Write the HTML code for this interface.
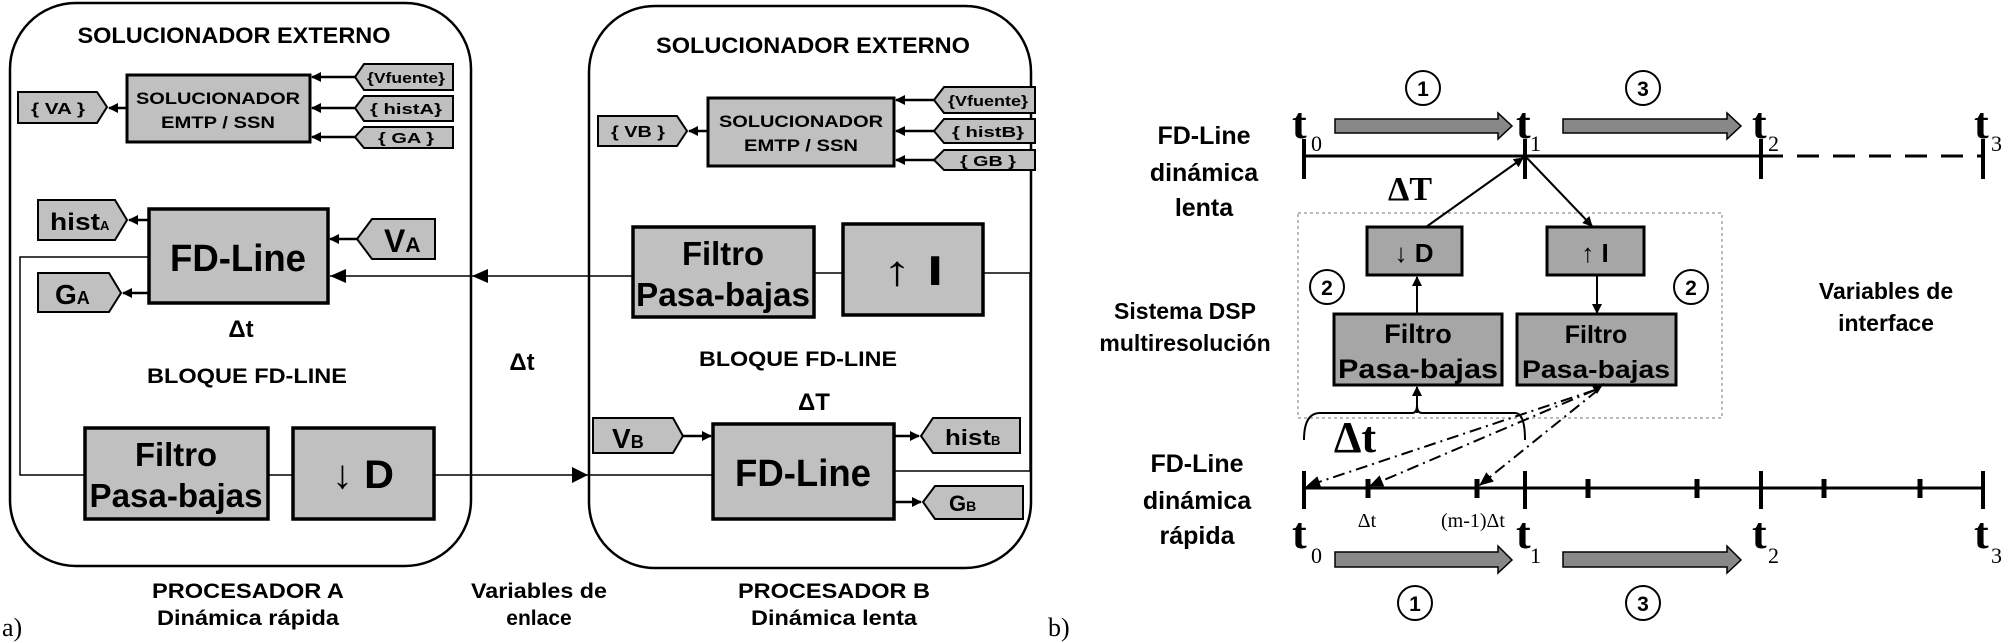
<!DOCTYPE html>
<html><head><meta charset="utf-8"><style>
html,body{margin:0;padding:0;background:#fff;}
svg{display:block;}
.s{font-family:"Liberation Sans",Arial,sans-serif;font-weight:bold;fill:#000;}
.r{font-family:"Liberation Serif","Times New Roman",serif;fill:#000;}
</style></head><body>
<svg width="2008" height="643" viewBox="0 0 2008 643" xmlns="http://www.w3.org/2000/svg">
<defs>
<marker id="a" markerWidth="10" markerHeight="10" refX="9" refY="5" orient="auto" markerUnits="userSpaceOnUse"><path d="M0,0 L10,5 L0,10 z" fill="#000"/></marker>
<marker id="b" markerWidth="14" markerHeight="12" refX="13" refY="6" orient="auto" markerUnits="userSpaceOnUse"><path d="M0,0 L14,6 L0,12 z" fill="#000"/></marker>
</defs>

<rect x="10" y="3" width="461" height="563" rx="66" ry="66" fill="none" stroke="#000" stroke-width="2.5"/>
<rect x="589" y="6" width="442" height="562" rx="66" ry="66" fill="none" stroke="#000" stroke-width="2.5"/>

<g class="s">
<text x="234" y="43" font-size="22" text-anchor="middle" textLength="313" lengthAdjust="spacingAndGlyphs">SOLUCIONADOR EXTERNO</text>
<text x="813" y="53" font-size="22" text-anchor="middle" textLength="314" lengthAdjust="spacingAndGlyphs">SOLUCIONADOR EXTERNO</text>
</g>

<rect x="127" y="75" width="183" height="67" fill="#c0c0c0" stroke="#000" stroke-width="3"/>
<g class="s" font-size="17" text-anchor="middle">
<text x="218" y="104" textLength="164" lengthAdjust="spacingAndGlyphs">SOLUCIONADOR</text>
<text x="218" y="128" textLength="114" lengthAdjust="spacingAndGlyphs">EMTP / SSN</text>
</g>
<polygon points="18,92 97,92 107,107 97,123 18,123" fill="#c0c0c0" stroke="#000" stroke-width="2"/>
<text class="s" x="58" y="114" font-size="16" text-anchor="middle" textLength="54" lengthAdjust="spacingAndGlyphs">{ VA }</text>
<line x1="127" y1="108" x2="109" y2="108" stroke="#000" stroke-width="2.5" marker-end="url(#a)"/>
<polygon points="364,64 453,64 453,90 364,90 355,77" fill="#c0c0c0" stroke="#000" stroke-width="2"/>
<polygon points="364,96 453,96 453,121 364,121 355,108" fill="#c0c0c0" stroke="#000" stroke-width="2"/>
<polygon points="364,127 453,127 453,148 364,148 355,137" fill="#c0c0c0" stroke="#000" stroke-width="2"/>
<g class="s" font-size="15" text-anchor="middle">
<text x="406" y="83" textLength="78" lengthAdjust="spacingAndGlyphs">{Vfuente}</text>
<text x="406" y="114" textLength="72" lengthAdjust="spacingAndGlyphs">{ histA}</text>
<text x="406" y="143" textLength="56" lengthAdjust="spacingAndGlyphs">{ GA }</text>
</g>
<g stroke="#000" stroke-width="2.5">
<line x1="355" y1="77" x2="312" y2="77" marker-end="url(#a)"/>
<line x1="355" y1="108" x2="312" y2="108" marker-end="url(#a)"/>
<line x1="355" y1="137" x2="312" y2="137" marker-end="url(#a)"/>
</g>

<rect x="149" y="209" width="179" height="94" fill="#c0c0c0" stroke="#000" stroke-width="3.5"/>
<text class="s" x="238" y="271" font-size="38" text-anchor="middle" textLength="136" lengthAdjust="spacingAndGlyphs">FD-Line</text>
<polygon points="38,200 115,200 127,220 115,240 38,240" fill="#c0c0c0" stroke="#000" stroke-width="2"/>
<text class="s" x="50" y="230" font-size="24" textLength="50" lengthAdjust="spacingAndGlyphs">hist</text>
<text class="s" x="100" y="230" font-size="13">A</text>
<polygon points="38,273 109,273 121,293 109,312 38,312" fill="#c0c0c0" stroke="#000" stroke-width="2"/>
<text class="s" x="55" y="304" font-size="28">G<tspan font-size="18">A</tspan></text>
<polygon points="372,219 435,219 435,259 372,259 357,239" fill="#c0c0c0" stroke="#000" stroke-width="2"/>
<text class="s" x="384" y="252" font-size="32">V<tspan font-size="21">A</tspan></text>
<g stroke="#000" stroke-width="2.5">
<line x1="149" y1="220" x2="129" y2="220" marker-end="url(#a)"/>
<line x1="149" y1="293" x2="123" y2="293" marker-end="url(#a)"/>
<line x1="357" y1="239" x2="330" y2="239" marker-end="url(#a)"/>
</g>
<text class="s" x="241" y="337" font-size="24" text-anchor="middle">Δt</text>
<text class="s" x="247" y="383" font-size="21" text-anchor="middle" textLength="200" lengthAdjust="spacingAndGlyphs">BLOQUE FD-LINE</text>

<rect x="85" y="428" width="183" height="91" fill="#c0c0c0" stroke="#000" stroke-width="3.5"/>
<g class="s" font-size="33" text-anchor="middle">
<text x="176" y="466" textLength="82" lengthAdjust="spacingAndGlyphs">Filtro</text>
<text x="176" y="507" textLength="173" lengthAdjust="spacingAndGlyphs">Pasa-bajas</text>
</g>
<rect x="293" y="428" width="141" height="91" fill="#c0c0c0" stroke="#000" stroke-width="3.5"/>
<text class="s" x="363" y="488" font-size="40" text-anchor="middle" textLength="62" lengthAdjust="spacingAndGlyphs">↓ D</text>
<g fill="none" stroke="#000" stroke-width="1.5">
<polyline points="149,257 20,257 20,475 85,475"/>
<line x1="268" y1="475" x2="293" y2="475"/>
<line x1="434" y1="475" x2="713" y2="475"/>
</g>
<polygon points="572,467 588,475 572,483" fill="#000"/>

<rect x="708" y="98" width="186" height="68" fill="#c0c0c0" stroke="#000" stroke-width="3"/>
<g class="s" font-size="17" text-anchor="middle">
<text x="801" y="127" textLength="164" lengthAdjust="spacingAndGlyphs">SOLUCIONADOR</text>
<text x="801" y="151" textLength="114" lengthAdjust="spacingAndGlyphs">EMTP / SSN</text>
</g>
<polygon points="598,116 677,116 687,131 677,146 598,146" fill="#c0c0c0" stroke="#000" stroke-width="2"/>
<text class="s" x="638" y="137" font-size="16" text-anchor="middle" textLength="54" lengthAdjust="spacingAndGlyphs">{ VB }</text>
<line x1="708" y1="131" x2="689" y2="131" stroke="#000" stroke-width="2.5" marker-end="url(#a)"/>
<polygon points="944,87 1035,87 1035,113 944,113 934,100" fill="#c0c0c0" stroke="#000" stroke-width="2"/>
<polygon points="944,119 1035,119 1035,143 944,143 934,131" fill="#c0c0c0" stroke="#000" stroke-width="2"/>
<polygon points="944,150 1035,150 1035,170 944,170 934,160" fill="#c0c0c0" stroke="#000" stroke-width="2"/>
<g class="s" font-size="15" text-anchor="middle">
<text x="988" y="106" textLength="80" lengthAdjust="spacingAndGlyphs">{Vfuente}</text>
<text x="988" y="137" textLength="72" lengthAdjust="spacingAndGlyphs">{ histB}</text>
<text x="988" y="166" textLength="56" lengthAdjust="spacingAndGlyphs">{ GB }</text>
</g>
<g stroke="#000" stroke-width="2.5">
<line x1="934" y1="100" x2="896" y2="100" marker-end="url(#a)"/>
<line x1="934" y1="131" x2="896" y2="131" marker-end="url(#a)"/>
<line x1="934" y1="160" x2="896" y2="160" marker-end="url(#a)"/>
</g>

<rect x="633" y="227" width="181" height="90" fill="#c0c0c0" stroke="#000" stroke-width="3.5"/>
<g class="s" font-size="33" text-anchor="middle">
<text x="723" y="265" textLength="82" lengthAdjust="spacingAndGlyphs">Filtro</text>
<text x="723" y="306" textLength="174" lengthAdjust="spacingAndGlyphs">Pasa-bajas</text>
</g>
<rect x="843" y="224" width="140" height="91" fill="#c0c0c0" stroke="#000" stroke-width="3.5"/>
<text class="s" x="913" y="285" font-size="42" text-anchor="middle" textLength="60" lengthAdjust="spacingAndGlyphs">↑ I</text>
<g fill="none" stroke="#000" stroke-width="1.5">
<line x1="814" y1="273" x2="843" y2="273"/>
<polyline points="983,273 1030,273 1030,471 894,471"/>
<line x1="633" y1="276" x2="330" y2="276"/>
</g>
<polygon points="330,276 346,269 346,283" fill="#000"/>
<polygon points="472,276 488,269 488,283" fill="#000"/>

<text class="s" x="798" y="366" font-size="21" text-anchor="middle" textLength="198" lengthAdjust="spacingAndGlyphs">BLOQUE FD-LINE</text>
<text class="s" x="814" y="410" font-size="24" text-anchor="middle">ΔT</text>
<text class="s" x="522" y="370" font-size="24" text-anchor="middle">Δt</text>

<rect x="713" y="424" width="181" height="95" fill="#c0c0c0" stroke="#000" stroke-width="3.5"/>
<text class="s" x="803" y="486" font-size="38" text-anchor="middle" textLength="136" lengthAdjust="spacingAndGlyphs">FD-Line</text>
<polygon points="593,418 673,418 683,436 673,453 593,453" fill="#c0c0c0" stroke="#000" stroke-width="2"/>
<text class="s" x="612" y="448" font-size="28">V<tspan font-size="18">B</tspan></text>
<polygon points="933,418 1020,418 1020,453 933,453 921,436" fill="#c0c0c0" stroke="#000" stroke-width="2"/>
<text class="s" x="945" y="445" font-size="22" textLength="46" lengthAdjust="spacingAndGlyphs">hist</text>
<text class="s" x="991" y="445" font-size="13">B</text>
<polygon points="935,486 1023,486 1023,519 935,519 923,502" fill="#c0c0c0" stroke="#000" stroke-width="2"/>
<text class="s" x="949" y="511" font-size="22">G<tspan font-size="14">B</tspan></text>
<g stroke="#000" stroke-width="2.5">
<line x1="683" y1="436" x2="711" y2="436" marker-end="url(#a)"/>
<line x1="894" y1="436" x2="919" y2="436" marker-end="url(#a)"/>
<line x1="894" y1="502" x2="921" y2="502" marker-end="url(#a)"/>
</g>

<g class="s" font-size="21" text-anchor="middle">
<text x="248" y="598" textLength="192" lengthAdjust="spacingAndGlyphs">PROCESADOR A</text>
<text x="248" y="625" textLength="182" lengthAdjust="spacingAndGlyphs">Dinámica rápida</text>
<text x="539" y="598" textLength="136" lengthAdjust="spacingAndGlyphs">Variables de</text>
<text x="539" y="625">enlace</text>
<text x="834" y="598" textLength="192" lengthAdjust="spacingAndGlyphs">PROCESADOR B</text>
<text x="834" y="625" textLength="166" lengthAdjust="spacingAndGlyphs">Dinámica lenta</text>
</g>
<text class="r" x="2" y="636" font-size="26">a)</text>
<text class="r" x="1048" y="636" font-size="26">b)</text>

<g class="s" font-size="25" text-anchor="middle">
<text x="1204" y="144">FD-Line</text>
<text x="1204" y="181">dinámica</text>
<text x="1204" y="216">lenta</text>
<text x="1197" y="472">FD-Line</text>
<text x="1197" y="509">dinámica</text>
<text x="1197" y="544">rápida</text>
<text x="1185" y="319" font-size="23">Sistema DSP</text>
<text x="1185" y="351" font-size="23">multiresolución</text>
<text x="1886" y="299" font-size="23">Variables de</text>
<text x="1886" y="331" font-size="23">interface</text>
</g>

<g stroke="#000" stroke-width="3">
<line x1="1304" y1="156" x2="1761" y2="156"/>
<line x1="1761" y1="156" x2="1983" y2="156" stroke-dasharray="22,14"/>
<line x1="1304" y1="139" x2="1304" y2="179" stroke-width="4"/>
<line x1="1525" y1="139" x2="1525" y2="179" stroke-width="4"/>
<line x1="1761" y1="139" x2="1761" y2="179" stroke-width="4"/>
<line x1="1983" y1="139" x2="1983" y2="179" stroke-width="4"/>
</g>
<g class="r" font-weight="bold" font-size="44">
<text x="1292" y="138">t</text><text x="1516" y="138">t</text><text x="1752" y="138">t</text><text x="1974" y="138">t</text>
<text x="1292" y="548">t</text><text x="1516" y="548">t</text><text x="1752" y="548">t</text><text x="1974" y="548">t</text>
</g>
<g class="r" font-size="22">
<text x="1311" y="151">0</text><text x="1530" y="151">1</text><text x="1768" y="151">2</text><text x="1991" y="151">3</text>
<text x="1311" y="563">0</text><text x="1530" y="563">1</text><text x="1768" y="563">2</text><text x="1991" y="563">3</text>
</g>
<g fill="#888" stroke="#000" stroke-width="1.5">
<polygon points="1335,119 1498,119 1498,113 1512,126 1498,139 1498,133 1335,133"/>
<polygon points="1563,119 1727,119 1727,113 1741,126 1727,139 1727,133 1563,133"/>
<polygon points="1335,552 1498,552 1498,546 1512,560 1498,573 1498,567 1335,567"/>
<polygon points="1563,552 1727,552 1727,546 1741,560 1727,573 1727,567 1563,567"/>
</g>
<g fill="#fff" stroke="#000" stroke-width="2">
<circle cx="1423" cy="88" r="17"/><circle cx="1643" cy="88" r="17"/>
<circle cx="1415" cy="603" r="17"/><circle cx="1643" cy="603" r="17"/>
<circle cx="1327" cy="287" r="17"/><circle cx="1691" cy="287" r="17"/>
</g>
<g class="s" font-size="21" text-anchor="middle">
<text x="1423" y="96">1</text><text x="1643" y="96">3</text>
<text x="1415" y="611">1</text><text x="1643" y="611">3</text>
<text x="1327" y="295">2</text><text x="1691" y="295">2</text>
</g>
<text class="r" x="1410" y="200" font-size="34" font-weight="bold" text-anchor="middle">ΔT</text>

<rect x="1298" y="213" width="424" height="205" fill="none" stroke="#777" stroke-width="1" stroke-dasharray="3,3"/>
<rect x="1367" y="227" width="95" height="48" fill="#a6a6a6" stroke="#000" stroke-width="3"/>
<text class="s" x="1414" y="262" font-size="26" text-anchor="middle">↓ D</text>
<rect x="1547" y="227" width="97" height="48" fill="#a6a6a6" stroke="#000" stroke-width="3"/>
<text class="s" x="1595" y="262" font-size="26" text-anchor="middle">↑ I</text>
<rect x="1334" y="314" width="168" height="71" fill="#a6a6a6" stroke="#000" stroke-width="3"/>
<g class="s" font-size="27" text-anchor="middle">
<text x="1418" y="343">Filtro</text>
<text x="1418" y="378" textLength="160" lengthAdjust="spacingAndGlyphs">Pasa-bajas</text>
</g>
<rect x="1517" y="314" width="159" height="71" fill="#a6a6a6" stroke="#000" stroke-width="3"/>
<g class="s" font-size="25" text-anchor="middle">
<text x="1596" y="343">Filtro</text>
<text x="1596" y="378" textLength="148" lengthAdjust="spacingAndGlyphs">Pasa-bajas</text>
</g>
<g stroke="#000" stroke-width="2" fill="none">
<line x1="1426" y1="227" x2="1523" y2="158" marker-end="url(#a)"/>
<line x1="1527" y1="158" x2="1592" y2="226" marker-end="url(#a)"/>
<line x1="1597" y1="275" x2="1597" y2="313" marker-end="url(#a)"/>
<line x1="1417" y1="314" x2="1417" y2="277" marker-end="url(#a)"/>
<line x1="1417" y1="413" x2="1417" y2="387" marker-end="url(#a)"/>
<path d="M1304,440 Q1304,413 1320,413 L1412,413 Q1417,413 1417,405 Q1417,413 1422,413 L1515,413 Q1525,413 1525,440"/>
</g>
<text class="r" x="1355" y="452" font-size="44" font-weight="bold" text-anchor="middle">Δt</text>
<g stroke="#000" stroke-width="2" fill="none" stroke-dasharray="12,5,2,5">
<line x1="1595" y1="390" x2="1307" y2="486" marker-end="url(#b)"/>
<line x1="1595" y1="390" x2="1370" y2="486" marker-end="url(#b)"/>
<line x1="1598" y1="390" x2="1480" y2="485" marker-end="url(#b)"/>
</g>
<polygon points="1592,386 1604,383 1597,394" fill="#000"/>
<g stroke="#000" stroke-width="3">
<line x1="1304" y1="488" x2="1983" y2="488"/>
<line x1="1304" y1="471" x2="1304" y2="509" stroke-width="4"/>
<line x1="1525" y1="471" x2="1525" y2="509" stroke-width="4"/>
<line x1="1761" y1="471" x2="1761" y2="509" stroke-width="4"/>
<line x1="1983" y1="471" x2="1983" y2="509" stroke-width="4"/>
<line x1="1368" y1="479" x2="1368" y2="498" stroke-width="5"/>
<line x1="1477" y1="479" x2="1477" y2="498" stroke-width="5"/>
<line x1="1588" y1="479" x2="1588" y2="498" stroke-width="5"/>
<line x1="1697" y1="479" x2="1697" y2="498" stroke-width="5"/>
<line x1="1824" y1="479" x2="1824" y2="498" stroke-width="5"/>
<line x1="1920" y1="479" x2="1920" y2="498" stroke-width="5"/>
</g>
<g class="r" font-size="20" text-anchor="middle">
<text x="1367" y="527">Δt</text>
<text x="1473" y="527">(m-1)Δt</text>
</g>
</svg>
</body></html>
